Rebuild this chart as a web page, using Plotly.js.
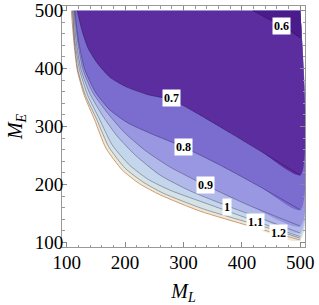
<!DOCTYPE html>
<html><head><meta charset="utf-8">
<script src="https://cdn.plot.ly/plotly-3.0.1.min.js"></script>
<style>body{margin:0;padding:0;background:#fff}#plot{width:319px;height:305px}</style>
</head><body><div id="plot"></div>
<script>
// Contour levels, highest first (the 1.3 curve is the edge of the filled domain)
const levels = ['1.3', '1.2', '1.1', '1', '0.9', '0.8', '0.7', '0.6'];

// Contour paths: M_L (x) and M_E (y)
const c13ML = [108, 112, 118, 130, 148, 167, 195, 225, 260, 328, 414, 500];
const c13ME = [500, 449, 398, 354, 311, 263, 225, 201, 182, 154, 128, 104];
const c12ML = [110, 113, 119, 132, 152, 172, 200, 231, 265, 333, 419, 462, 500];
const c12ME = [500, 449, 398, 354, 311, 265, 228, 204, 185, 158, 132, 120, 107];
const c11ML = [110.5, 114, 122, 136, 156, 178, 207, 239, 277, 345, 422, 500];
const c11ME = [500, 449, 398, 354, 313, 268, 234, 209, 190, 165, 137, 110];
const c10ML = [112, 116, 124.5, 140, 162, 186, 217, 260, 311, 374.5, 431, 500];
const c10ME = [500, 449, 398, 356, 318, 284, 251, 216, 189, 163, 142, 116];
const c09ML = [113, 118.5, 128, 145, 171, 198, 234, 277, 337, 414, 500];
const c09ME = [500, 449, 398, 358, 322, 290.5, 259, 230, 199, 163, 128];
const c08ML = [114, 120, 131, 150, 174, 205, 246, 299, 362.5, 431, 500];
const c08ME = [500, 449, 398, 358, 328.5, 306, 287, 265, 233.5, 196, 156];
const c07ML = [118, 126, 136.5, 152, 174, 203, 239, 280, 328, 380, 431, 500];
const c07ME = [500, 466.5, 435.5, 410, 385, 368, 355, 346, 320, 289, 258, 216];
const c06ML = [419, 448, 474, 500];
const c06ME = [500, 484, 472, 453];

// Contour label texts and where they sit
const labelText = ['0.6', '0.7', '0.8', '0.9', '1', '1.1', '1.2'];
const labelML = [468.6, 280.3, 299.2, 336.8, 374.5, 422.4, 461.8];
const labelME = [473.4, 349.2, 264.6, 199, 161, 135.2, 116.2];

// Axis ticks
const tickVals = [100, 200, 300, 400, 500];
const tickText = ['100', '200', '300', '400', '500'];

const pathsML = [c13ML, c12ML, c11ML, c10ML, c09ML, c08ML, c07ML, c06ML];
const pathsME = [c13ME, c12ME, c11ME, c10ME, c09ME, c08ME, c07ME, c06ME];
// fill of the band just below each level
const bandColors = ['#eae9da', '#d6e3e6', '#c4d6ec', '#b1b8ea', '#9997e2', '#7b6cd0', '#5b2d9f', '#4a1b8b'];
const lineColors = ['#d39a6a', 'rgba(70,60,90,0.55)', 'rgba(70,60,90,0.55)', 'rgba(70,60,90,0.55)',
                    'rgba(60,50,90,0.55)', 'rgba(50,40,90,0.6)', 'rgba(40,20,80,0.6)', 'rgba(40,20,80,0.6)'];

const traces = [];
for (let i = 0; i < levels.length; i++) {
  traces.push({
    type: 'scatter', mode: 'lines',
    x: pathsML[i].concat([500]), y: pathsME[i].concat([500]),
    fill: 'toself', fillcolor: bandColors[i],
    line: {width: 0, shape: 'spline', smoothing: 0.6},
    hoverinfo: 'skip', showlegend: false
  });
}
for (let i = 0; i < levels.length; i++) {
  traces.push({
    type: 'scatter', mode: 'lines',
    x: pathsML[i], y: pathsME[i],
    line: {width: i === 0 ? 1 : 0.8, color: lineColors[i], shape: 'spline', smoothing: 0.6},
    hoverinfo: 'skip', showlegend: false
  });
}

const annotations = labelText.map((t, i) => ({
  x: labelML[i], y: labelME[i], xref: 'x', yref: 'y',
  text: '<b>' + t + '</b>', showarrow: false,
  bgcolor: '#ffffff', borderpad: 1,
  font: {family: 'Liberation Serif, Times New Roman, serif', size: 12, color: '#000'}
}));

const axisCommon = {
  range: [92, 508], tickvals: tickVals, ticktext: tickText,
  ticks: 'inside', ticklen: 5, tickcolor: '#888', tickwidth: 1,
  minor: {dtick: 20, tick0: 100, ticks: 'inside', ticklen: 2.5, tickcolor: '#999', tickwidth: 1},
  showline: true, linecolor: '#999', linewidth: 1, mirror: 'allticks',
  showgrid: false, zeroline: false,
  tickfont: {family: 'Liberation Serif, Times New Roman, serif', size: 19, color: '#000'}
};

const layout = {
  width: 319, height: 305,
  margin: {l: 62, r: 14, t: 6, b: 58},
  paper_bgcolor: '#fff', plot_bgcolor: '#fff',
  xaxis: Object.assign({}, axisCommon, {
    ticklabelstandoff: -2,
    title: {text: '<i>M</i><sub><i>L</i></sub>', standoff: 18,
            font: {family: 'Liberation Serif, Times New Roman, serif', size: 20, color: '#000'}}
  }),
  yaxis: Object.assign({}, axisCommon, {
    ticklabelstandoff: -6,
    title: {text: '<i>M</i><sub><i>E</i></sub>', standoff: 6,
            font: {family: 'Liberation Serif, Times New Roman, serif', size: 20, color: '#000'}}
  }),
  annotations: annotations
};

Plotly.newPlot('plot', traces, layout, {displayModeBar: false, staticPlot: true});
</script>
</body></html>
